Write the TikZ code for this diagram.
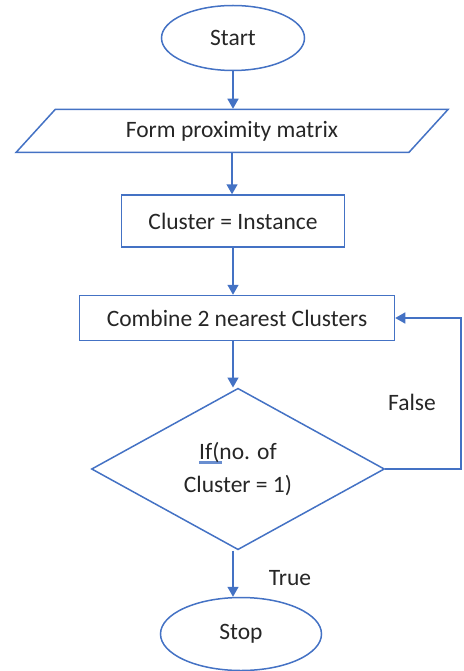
\documentclass[tikz,border=0pt]{standalone}
\usepackage{fontspec}
\setmainfont{Carlito}
\usetikzlibrary{shapes.geometric}
\usetikzlibrary{arrows.meta}
\definecolor{flowblue}{HTML}{4472C4}

\begin{document}
\begin{tikzpicture}[
      x=1pt, y=-1pt, >={Triangle[length=10pt, width=11pt]},
      every node/.style={font=\fontsize{23.5}{33}\selectfont, text=black!85},
      box/.style={draw=flowblue, line width=1.5pt, inner sep=0pt},
      term/.style={box, ellipse},
      io/.style={box, trapezium, trapezium left angle=27, trapezium right angle=153,
        trapezium stretches body},
      proc/.style={box, rectangle},
      cond/.style={box, diamond, align=center},
      link/.style={->, draw=flowblue, line width=1.5pt}]

      \useasboundingbox (0,0) rectangle (463,671);

      % nodes
      \node[term, minimum width=143pt, minimum height=65pt] (start) at (233,38) {Start};
      \node[io, minimum width=432pt, minimum height=43pt] (form) at (232,131) {Form proximity matrix};
      \node[proc, minimum width=223pt, minimum height=52pt] (init) at (233,221) {Cluster = Instance};
      \node[proc, minimum width=315pt, minimum height=45pt] (merge) at (237,318) {Combine 2 nearest Clusters};
      \node[cond, minimum width=293pt, minimum height=155pt] (test) at (238,469)
        {\rlap{\color{flowblue!80}\rule[-5pt]{23pt}{3pt}}If(no. of\\Cluster = 1)};
      \node[term, minimum width=161pt, minimum height=73pt] (stop) at (241,634) {Stop};

      % edges
      \draw[link] (start.south) -- (start.south |- form.north);
      \draw[link] (form.south) -- (form.south |- init.north);
      \draw[link] (init.south) -- (init.south |- merge.north);
      \draw[link] (merge.south -| init.south) -- (init.south |- test.north);
      \draw[link] (test.south -| init.south) -- (init.south |- stop.north);
      \coordinate (back) at (461,469);
      \draw[link] (test.east) -- (back) |- (merge.east);

      % branch labels
      \node (no) at (412,402) {False};
      \node (yes) at (290,578) {True};
    \end{tikzpicture}
\end{document}
